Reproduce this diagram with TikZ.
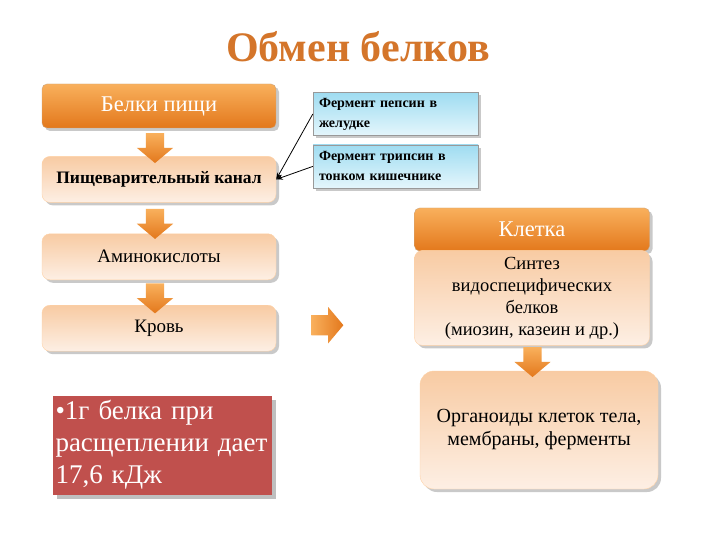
\documentclass[tikz,border=0pt]{standalone}
\usepackage{fontspec}
\setmainfont{Liberation Serif}
\usepackage{tikz}
\usetikzlibrary{arrows.meta,positioning,calc,shapes.arrows,shadows}

\definecolor{orangetop}{HTML}{F9B05C}
\definecolor{orangebot}{HTML}{E3781C}
\definecolor{peachtop}{HTML}{F8CBA3}
\definecolor{peachbot}{HTML}{FDEFE4}
\definecolor{bluetop}{HTML}{9FDCF1}
\definecolor{bluebot}{HTML}{E4F6FC}
\definecolor{notered}{HTML}{C0504D}
\definecolor{titleorange}{HTML}{D4752A}

\begin{document}
\begin{tikzpicture}[
  x=1pt, y=-1pt, >=Stealth, node distance=28pt,
  font=\fontsize{19}{22}\selectfont,
  softshadow/.style={drop shadow={shadow xshift=3pt, shadow yshift=-3pt,
    opacity=.35, fill=black!60}},
  header/.style={draw=orange!60!black!50, rounded corners=5pt,
    top color=orangetop, bottom color=orangebot, text=white,
    minimum width=234pt, minimum height=44pt,
    font=\fontsize{22.5}{24}\selectfont, softshadow},
  stage/.style={draw=orange!35, rounded corners=8pt,
    top color=peachtop, bottom color=peachbot, text=black,
    minimum width=234pt, minimum height=46pt, align=center, softshadow},
  enzyme/.style={draw=gray!80, top color=bluetop, bottom color=bluebot,
    minimum width=165pt, minimum height=43pt, text width=153pt, align=left,
    inner xsep=6pt, font=\fontsize{14}{20}\selectfont\bfseries, softshadow},
  note/.style={fill=notered, text=white, minimum width=219pt, minimum height=99pt,
    text width=214pt, inner xsep=2.5pt, align=left, font=\fontsize{27}{32}\selectfont,
    drop shadow={shadow xshift=4pt, shadow yshift=-4pt, opacity=.5, fill=black!50}},
  down/.style={single arrow, shape border rotate=270, draw=none,
    top color=orangetop, bottom color=orangebot, inner sep=9pt,
    minimum height=30pt, minimum width=36pt, single arrow head extend=9pt,
    single arrow tip angle=100},
  onward/.style={single arrow, draw=none, left color=orangetop, right color=orangebot,
    inner sep=10pt, minimum height=32pt, minimum width=36pt,
    single arrow head extend=8pt, single arrow tip angle=100},
  link/.style={->, thick, black}
]
\path[use as bounding box, fill=white] (0,0) rectangle (720,540);

\node[font=\fontsize{42}{44}\selectfont\bfseries, text=titleorange] (title) at (358,47) {Обмен белков};

% left column
\node[header] (food) at (159,106) {Белки пищи};
\node[stage, below=28pt of food, font=\fontsize{17.5}{21}\selectfont\bfseries] (canal) {Пищеварительный канал};
\node[stage, below=31pt of canal] (amino) {Аминокислоты};
\node[stage, below=25pt of amino] (blood) {Кровь};

% enzymes
\node[enzyme] (pepsin) at (395.5,114) {Фермент пепсин в\\желудке};
\node[enzyme, below=9pt of pepsin] (trypsin) {Фермент трипсин в\\тонком кишечнике};

% right column
\node[header, minimum width=235pt, minimum height=43pt] (cell) at (532,229.5) {Клетка};
\node[stage, below=-1pt of cell, minimum width=235pt, minimum height=95pt,
  font=\fontsize{18.5}{22}\selectfont] (synth)
  {Синтез\\видоспецифических\\белков\\(миозин, казеин и др.)};
\node[stage, minimum width=238pt, minimum height=118pt, rounded corners=14pt,
  font=\fontsize{20}{23}\selectfont] (organ) at (539,430)
  {Органоиды клеток тела,\\мембраны, ферменты};

\node[note] (energy) at (162.5,445) {•1г белка при\\расщеплении дает\\17,6 кДж};

% block arrows
\node[down] (a1) at ($(food.south)!.5!(canal.north)+(-4,2)$) {};
\node[down] (a2) at ($(canal.south)!.5!(amino.north)+(-4,2)$) {};
\node[down] (a3) at ($(amino.south)!.5!(blood.north)+(-4,2)$) {};
\node[down] (a4) at ($(synth.south)!.5!(organ.north)+(-3,0)$) {};
\node[onward, right=35pt of blood, yshift=3pt] (go) {};

\draw[link] (pepsin.west) -- (canal.east);
\draw[link] (trypsin.west) -- (canal.east);
\end{tikzpicture}
\end{document}
